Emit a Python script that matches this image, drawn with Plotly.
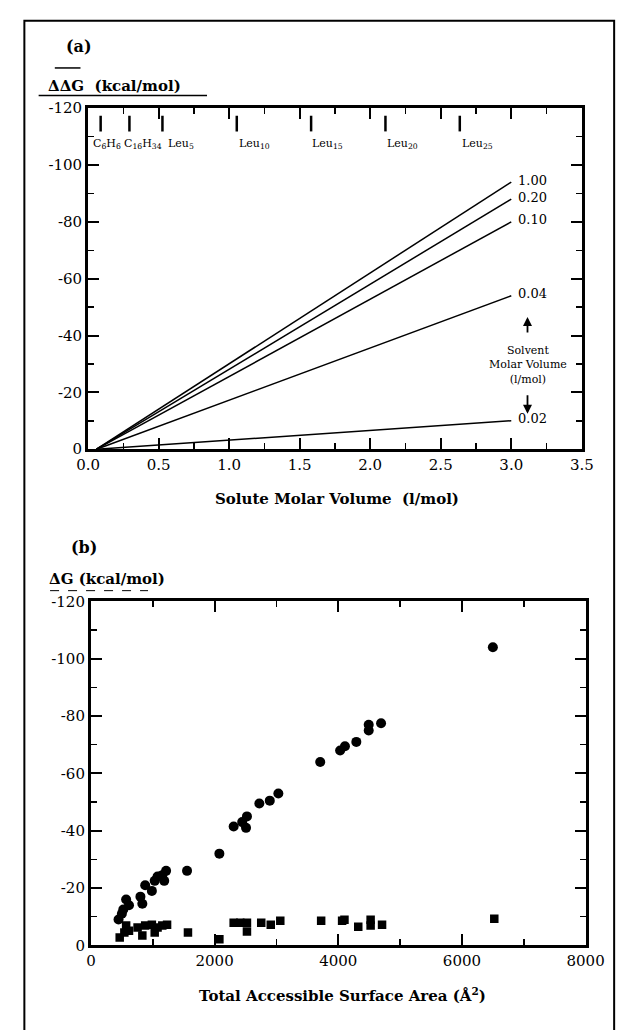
import plotly.graph_objects as go

W, H = 636, 1030

# ---------------- Panel (a) data ----------------
solvent_labels = ["1.00", "0.20", "0.10", "0.04", "0.02"]
line_x = [0.06, 3.0]                       # solute molar volume range of the lines
line_end_ddg = [-94, -88, -80, -54, -10]   # ddG at 3.0 l/mol

ref_names = ["C<sub>6</sub>H<sub>6</sub>", "C<sub>16</sub>H<sub>34</sub>",
             "Leu<sub>5</sub>", "Leu<sub>10</sub>", "Leu<sub>15</sub>",
             "Leu<sub>20</sub>", "Leu<sub>25</sub>"]
ref_volumes = [0.089, 0.293, 0.527, 1.054, 1.581, 2.108, 2.635]

a_xticks = [0.0, 0.5, 1.0, 1.5, 2.0, 2.5, 3.0, 3.5]
a_xlabels = ["0.0", "0.5", "1.0", "1.5", "2.0", "2.5", "3.0", "3.5"]
a_yticks = [-120, -100, -80, -60, -40, -20, 0]
a_ylabels = ["-120", "-100", "-80", "-60", "-40", "-20", "0"]

# ---------------- Panel (b) data ----------------
circle_asa = [446, 500, 523, 569, 615, 800, 831, 877, 985, 1031, 1077, 1154,
              1185, 1215, 1554, 2077, 2308, 2446, 2508, 2523, 2723, 2892, 3031,
              3708, 4030, 4108, 4292, 4492, 4492, 4692, 6500]
circle_dg = [-9, -11, -12.5, -16, -14, -17, -14.5, -21, -19, -22.5, -24, -24.5,
             -22.5, -26, -26, -32, -41.5, -43, -41, -45, -49.5, -50.5, -53,
             -64, -68, -69.5, -71, -75, -77, -77.5, -104]

square_asa = [465, 540, 569, 615, 754, 831, 877, 985, 1031, 1077, 1154, 1231,
              1569, 2077, 2308, 2415, 2523, 2523, 2754, 2908, 3062, 3723, 4062,
              4100, 4323, 4523, 4523, 4708, 6523]
square_dg = [-2.7, -4.5, -6.9, -5.1, -6.2, -3.4, -6.9, -7.2, -4.5, -6.2, -6.9,
             -7.2, -4.5, -2.1, -7.9, -7.9, -7.9, -4.8, -7.9, -7.2, -8.6, -8.6,
             -8.6, -8.9, -6.5, -8.9, -6.9, -7.2, -9.3]

b_xticks = [0, 2000, 4000, 6000, 8000]
b_xlabels = ["0", "2000", "4000", "6000", "8000"]
b_yticks = [-120, -100, -80, -60, -40, -20, 0]
b_ylabels = ["-120", "-100", "-80", "-60", "-40", "-20", "0"]

# ---------------- helpers ----------------
SERIF = "DejaVu Serif"


def px(x):
    return x / W


def py(y):
    return 1 - y / H


fig = go.Figure()

for lab, yend in zip(solvent_labels, line_end_ddg):
    fig.add_trace(go.Scatter(x=line_x, y=[0, yend], mode="lines",
                             line=dict(color="black", width=1.5),
                             showlegend=False, hoverinfo="skip",
                             xaxis="x", yaxis="y"))

fig.add_trace(go.Scatter(x=circle_asa, y=circle_dg, mode="markers",
                         marker=dict(symbol="circle", size=10, color="black"),
                         showlegend=False, xaxis="x2", yaxis="y2"))
fig.add_trace(go.Scatter(x=square_asa, y=square_dg, mode="markers",
                         marker=dict(symbol="square", size=8.5, color="black"),
                         showlegend=False, xaxis="x2", yaxis="y2"))

axis_common = dict(showline=True, linewidth=3, linecolor="black", mirror="ticks",
                   ticks="inside", ticklen=11, tickwidth=2, tickcolor="black",
                   showgrid=False, zeroline=False, tickmode="array",
                   tickfont=dict(family=SERIF, size=15, color="black"))

fig.update_layout(
    width=W, height=H, autosize=False,
    margin=dict(l=0, r=0, t=0, b=0),
    paper_bgcolor="white", plot_bgcolor="white",
    xaxis=dict(domain=[px(80), px(599)], range=[0, 3.5], anchor="y",
               tickvals=a_xticks, ticktext=a_xlabels,
               minor=dict(tickmode="linear", tick0=0, dtick=0.25, ticks="inside",
                          ticklen=6, tickwidth=1.5, tickcolor="black"),
               **axis_common),
    yaxis=dict(domain=[py(448), py(101)], range=[0, -120], anchor="x",
               tickvals=a_yticks, ticktext=a_ylabels,
               minor=dict(tickmode="linear", tick0=0, dtick=10, ticks="inside",
                          ticklen=6, tickwidth=1.5, tickcolor="black"),
               **axis_common),
    xaxis2=dict(domain=[px(83), px(603)], range=[0, 8000], anchor="y2",
                tickvals=b_xticks, ticktext=b_xlabels,
                minor=dict(tickmode="linear", tick0=0, dtick=1000, ticks="inside",
                           ticklen=6, tickwidth=1.5, tickcolor="black"),
                **axis_common),
    yaxis2=dict(domain=[py(953), py(603)], range=[0, -120], anchor="x2",
                tickvals=b_yticks, ticktext=b_ylabels,
                minor=dict(tickmode="linear", tick0=0, dtick=10, ticks="inside",
                           ticklen=6, tickwidth=1.5, tickcolor="black"),
                **axis_common),
)

ann = []
shapes = []

# outer frame
shapes.append(dict(type="rect", xref="paper", yref="paper",
                   x0=px(13), x1=px(633), y0=-0.02, y1=py(12),
                   line=dict(color="black", width=2)))

# panel labels / y titles
ann.append(dict(text="<b>(a)</b>", x=px(55), y=py(38), xref="paper", yref="paper",
                xanchor="left", yanchor="middle", showarrow=False,
                font=dict(family=SERIF, size=16, color="black")))
ann.append(dict(text="<b>ΔΔG  (kcal/mol)</b>", x=px(36), y=py(78), xref="paper",
                yref="paper", xanchor="left", yanchor="middle", showarrow=False,
                font=dict(family=SERIF, size=15, color="black")))
shapes.append(dict(type="line", xref="paper", yref="paper", x0=px(28), x1=px(205),
                   y0=py(88), y1=py(88), line=dict(color="black", width=1.5)))
shapes.append(dict(type="line", xref="paper", yref="paper", x0=px(45), x1=px(72),
                   y0=py(60), y1=py(60), line=dict(color="black", width=1.5)))

ann.append(dict(text="<b>(b)</b>", x=px(60), y=py(548), xref="paper", yref="paper",
                xanchor="left", yanchor="middle", showarrow=False,
                font=dict(family=SERIF, size=16, color="black")))
ann.append(dict(text="<b>ΔG (kcal/mol)</b>", x=px(37), y=py(580), xref="paper",
                yref="paper", xanchor="left", yanchor="middle", showarrow=False,
                font=dict(family=SERIF, size=15, color="black")))
shapes.append(dict(type="line", xref="paper", yref="paper", x0=px(40), x1=px(143),
                   y0=py(592), y1=py(592), line=dict(color="black", width=1, dash="dash")))

# x titles
ann.append(dict(text="<b>Solute Molar Volume  (l/mol)</b>", x=px(342), y=py(499),
                xref="paper", yref="paper", xanchor="center", yanchor="middle",
                showarrow=False, font=dict(family=SERIF, size=15, color="black")))
ann.append(dict(text="<b>Total Accessible Surface Area (Å<sup>2</sup>)</b>",
                x=px(347), y=py(1004), xref="paper", yref="paper",
                xanchor="center", yanchor="middle", showarrow=False,
                font=dict(family=SERIF, size=15, color="black")))

# line-end labels
for lab, yend in zip(solvent_labels, line_end_ddg):
    ann.append(dict(text=lab, x=line_x[1], y=yend, xref="x", yref="y",
                    xanchor="left", yanchor="middle", xshift=5, yshift=2,
                    showarrow=False, font=dict(family=SERIF, size=13, color="black")))

# solvent molar volume annotation with arrows
ann.append(dict(text="Solvent<br>Molar Volume<br>(l/mol)", x=3.115, y=-29.5,
                xref="x", yref="y", xanchor="center", yanchor="middle",
                showarrow=False, font=dict(family=SERIF, size=11, color="black")))
ann.append(dict(text="", x=3.115, y=-46.5, ax=3.115, ay=-40.5, xref="x", yref="y",
                axref="x", ayref="y", showarrow=True, arrowhead=2, arrowsize=1,
                arrowwidth=1.8, arrowcolor="black"))
ann.append(dict(text="", x=3.115, y=-12.5, ax=3.115, ay=-19.5, xref="x", yref="y",
                axref="x", ayref="y", showarrow=True, arrowhead=2, arrowsize=1,
                arrowwidth=1.8, arrowcolor="black"))

# reference compound markers along the top of panel (a)
label_shift = [-10, -7, 4, 0, -1, 0, 0]
for name, v, sh in zip(ref_names, ref_volumes, label_shift):
    shapes.append(dict(type="line", xref="x", yref="y domain", x0=v, x1=v,
                       y0=0.932, y1=0.978, line=dict(color="black", width=2.5)))
    ann.append(dict(text=name, x=v, y=0.895, xref="x", yref="y domain",
                    xanchor="left", yanchor="middle", xshift=sh, showarrow=False,
                    font=dict(family=SERIF, size=11, color="black")))

fig.update_layout(annotations=ann, shapes=shapes)

fig.write_html("out.html",
               config={"displayModeBar": False, "staticPlot": True},
               post_script="document.body.style.margin='0';"
                           "document.body.style.overflow='hidden';")
